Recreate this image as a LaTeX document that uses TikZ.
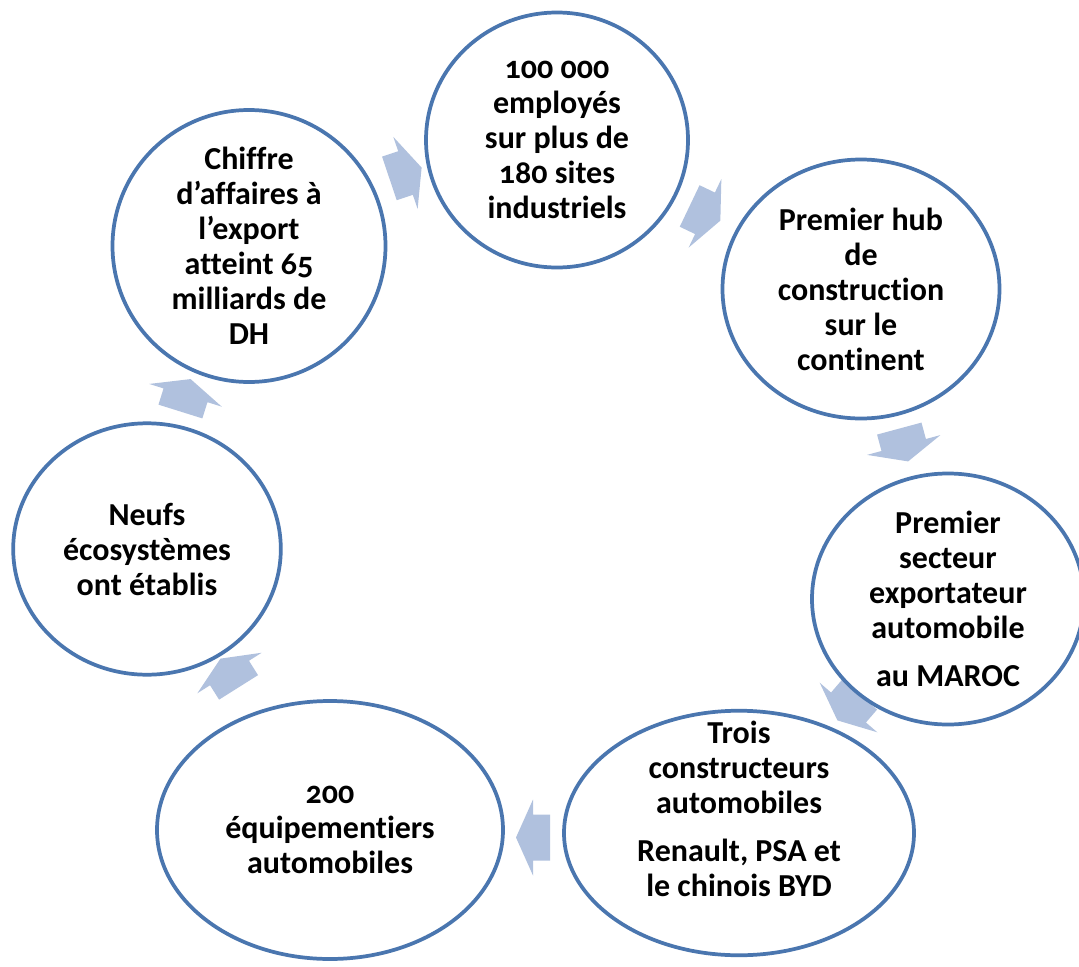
\documentclass[tikz,border=0pt]{standalone}
\usepackage{fontspec}
\setmainfont{Carlito}[Ligatures=NoCommon, Numbers=OldStyle]
\usetikzlibrary{shapes.geometric,backgrounds,calc}
\definecolor{ringblue}{RGB}{74,118,175}
\definecolor{arrowblue}{RGB}{176,193,222}
\tikzset{
  bubble/.style={ellipse, draw=ringblue, line width=2.8pt, fill=white, inner sep=0pt, outer sep=0pt},
  txt/.style={align=center, font=\fontsize{24}{26.25}\selectfont\bfseries, inner sep=0pt, text=black},
  blockarrow/.style={fill=arrowblue}
}
\newcommand{\cyclearrow}[4]{%
  \coordinate (#1) at (#2,#3);
  \fill[blockarrow, shift={(#1)}, rotate=#4]
    (-17,-23) -- (0,-23) -- (0,-38) -- (17,0) -- (0,38) -- (0,23) -- (-17,23) -- cycle;}
\begin{document}
\begin{tikzpicture}[x=0.75pt, y=-0.75pt]
  \useasboundingbox (0,0) rectangle (1079,967);
  \clip (0,0) rectangle (1079,967);

  % circles
  \node[bubble, minimum width=196.5pt, minimum height=191.25pt] (T) at (557,140) {};
  \node[bubble, minimum width=204.75pt, minimum height=204pt] (C) at (249,246) {};
  \node[bubble, minimum width=207.75pt, minimum height=194.25pt] (H) at (861,289) {};
  \node[bubble, minimum width=204pt, minimum height=188.25pt] (S) at (948,599) {};
  \node[bubble, minimum width=262.5pt, minimum height=183.4pt] (B) at (739,833) {};
  \node[bubble, minimum width=259.5pt, minimum height=193.5pt] (E) at (330,830) {};
  \node[bubble, minimum width=200.7pt, minimum height=188.55pt] (N) at (147,549) {};

  % texts
  \node[txt] (Tt) at (T) {100 000\\employés\\sur plus de\\180 sites\\industriels};
  \node[txt] (Ct) at (C) {Chiffre\\d’affaires à\\l’export\\atteint 65\\milliards de\\DH};
  \node[txt] (Ht) at (H) {Premier hub\\de\\construction\\sur le\\continent};
  \node[txt] (St) at (S) {Premier\\secteur\\exportateur\\automobile\\[10pt]au MAROC};
  \node[txt] (Bt) at ($(B)+(0,-24)$) {Trois\\constructeurs\\automobiles\\[10pt]Renault, PSA et\\le chinois BYD};
  \node[txt] (Et) at (E) {200\\équipementiers\\automobiles};
  \node[txt] (Nt) at (N) {Neufs\\écosystèmes\\ont établis};

  % arrows behind the circles
  \begin{scope}[on background layer]
    \fill[white] (0,0) rectangle (1079,967);
    \cyclearrow{a1}{405.5}{173}{18.6}
    \cyclearrow{a2}{705}{213.3}{-25.5}
    \cyclearrow{a3}{903.7}{445}{-74.9}
    \cyclearrow{a4}{848.5}{707.5}{-130.7}
    \cyclearrow{a5}{533}{837.5}{180}
    \cyclearrow{a6}{229.5}{673}{122.2}
    \cyclearrow{a7}{185.5}{395.3}{72.6}
  \end{scope}
\end{tikzpicture}
\end{document}
